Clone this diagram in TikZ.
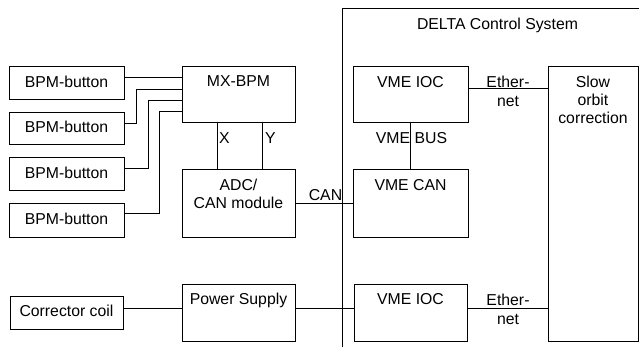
\documentclass[tikz,border=0pt]{standalone}
\usepackage{fontspec}
\setmainfont{Liberation Sans}
\begin{document}
\begin{tikzpicture}[x=1pt,y=-1pt,line width=1pt,
  every node/.style={font=\fontsize{15.8}{18}\selectfont, inner sep=0pt, outer sep=0pt},
  blk/.style={draw, rectangle},
  sidebox/.style={draw, rectangle, text height=11.3pt, text depth=4pt},
  toptext/.style={label={[anchor=north, label distance=-9pt, align=center]north:#1}},
  twoline/.style={anchor=north, align=center, font=\fontsize{15.8}{19}\selectfont}]
\useasboundingbox (0,0) rectangle (639,347);

% DELTA frame
\draw (342,347) -- (342,9) -- (639,9);
\node[anchor=base] (delta) at (497.5,30) {DELTA Control System};

% left boxes
\node[sidebox, minimum width=115pt, minimum height=33pt] (b1) at (66.5,83.5) {BPM-button};
\node[sidebox, minimum width=115pt, minimum height=32pt] (b2) at (66.5,129) {BPM-button};
\node[sidebox, minimum width=115pt, minimum height=33pt] (b3) at (66.5,174.5) {BPM-button};
\node[sidebox, minimum width=115pt, minimum height=33pt] (b4) at (66.5,220.5) {BPM-button};
\node[sidebox, minimum width=113pt, minimum height=33pt] (cc) at (66.5,312.5) {Corrector coil};

% middle boxes
\node[blk, minimum width=113pt, minimum height=56pt, toptext=MX-BPM] (mx) at (238.5,95) {};
\node[blk, minimum width=113pt, minimum height=67pt, toptext={ADC/\\CAN module}] (adc) at (238.5,203.5) {};
\node[blk, minimum width=113pt, minimum height=57pt, toptext={Power Supply}] (ps) at (238.5,312.5) {};

% VME boxes
\node[blk, minimum width=115pt, minimum height=56pt, toptext={VME IOC}] (ioc1) at (410.5,95) {};
\node[blk, minimum width=115pt, minimum height=67pt, toptext={VME CAN}] (vcan) at (410.5,203.5) {};
\node[blk, minimum width=113pt, minimum height=57pt, toptext={VME IOC}] (ioc2) at (410.5,312.5) {};

% slow orbit
\node[blk, minimum width=90pt, minimum height=274pt, toptext={Slow\\orbit\\correction}] (slow) at (593,204) {};

% BPM connectors
\draw ([yshift=5.5pt]b1.east) -- ([yshift=5.5pt]b1.east -| mx.west);
\draw ([yshift=5pt]b2.east) -- ++(12,0) |- ([yshift=5pt]mx.west);
\draw ([yshift=5.5pt]b3.east) -- ++(24,0) |- ([yshift=-6pt]mx.west);
\draw ([yshift=6.5pt]b4.east) -- ++(35,0) |- ([yshift=-17pt]mx.west);

% X / Y
\draw ([xshift=-21.5pt]mx.south) -- ([xshift=-21.5pt]adc.north);
\draw ([xshift=23.5pt]mx.south) -- ([xshift=23.5pt]adc.north);
\node[anchor=base] (xl) at (224.5,144) {X};
\node[anchor=base] (yl) at (270.5,144) {Y};

% CAN
\draw (adc.east) -- (vcan.west);
\node[anchor=base] (canl) at (325.5,201) {CAN};

% VME BUS
\draw (ioc1.south) -- (vcan.north);
\node[anchor=base] (busl) at (411.5,144) {VME BUS};

% Ethernet
\draw ([yshift=6pt]ioc1.east) -- ([yshift=6pt]ioc1.east -| slow.west);
\node[twoline] (eth1) at (508,76) {Ether-\\net};
\draw ([yshift=4.5pt]ioc2.east) -- ([yshift=4.5pt]ioc2.east -| slow.west);
\node[twoline] (eth2) at (508,294) {Ether-\\net};

% power chain
\draw ([yshift=4.5pt]cc.east) -- ([yshift=4.5pt]cc.east -| ps.west);
\draw ([yshift=4.5pt]ps.east) -- ([yshift=4.5pt]ps.east -| ioc2.west);
\end{tikzpicture}
\end{document}
